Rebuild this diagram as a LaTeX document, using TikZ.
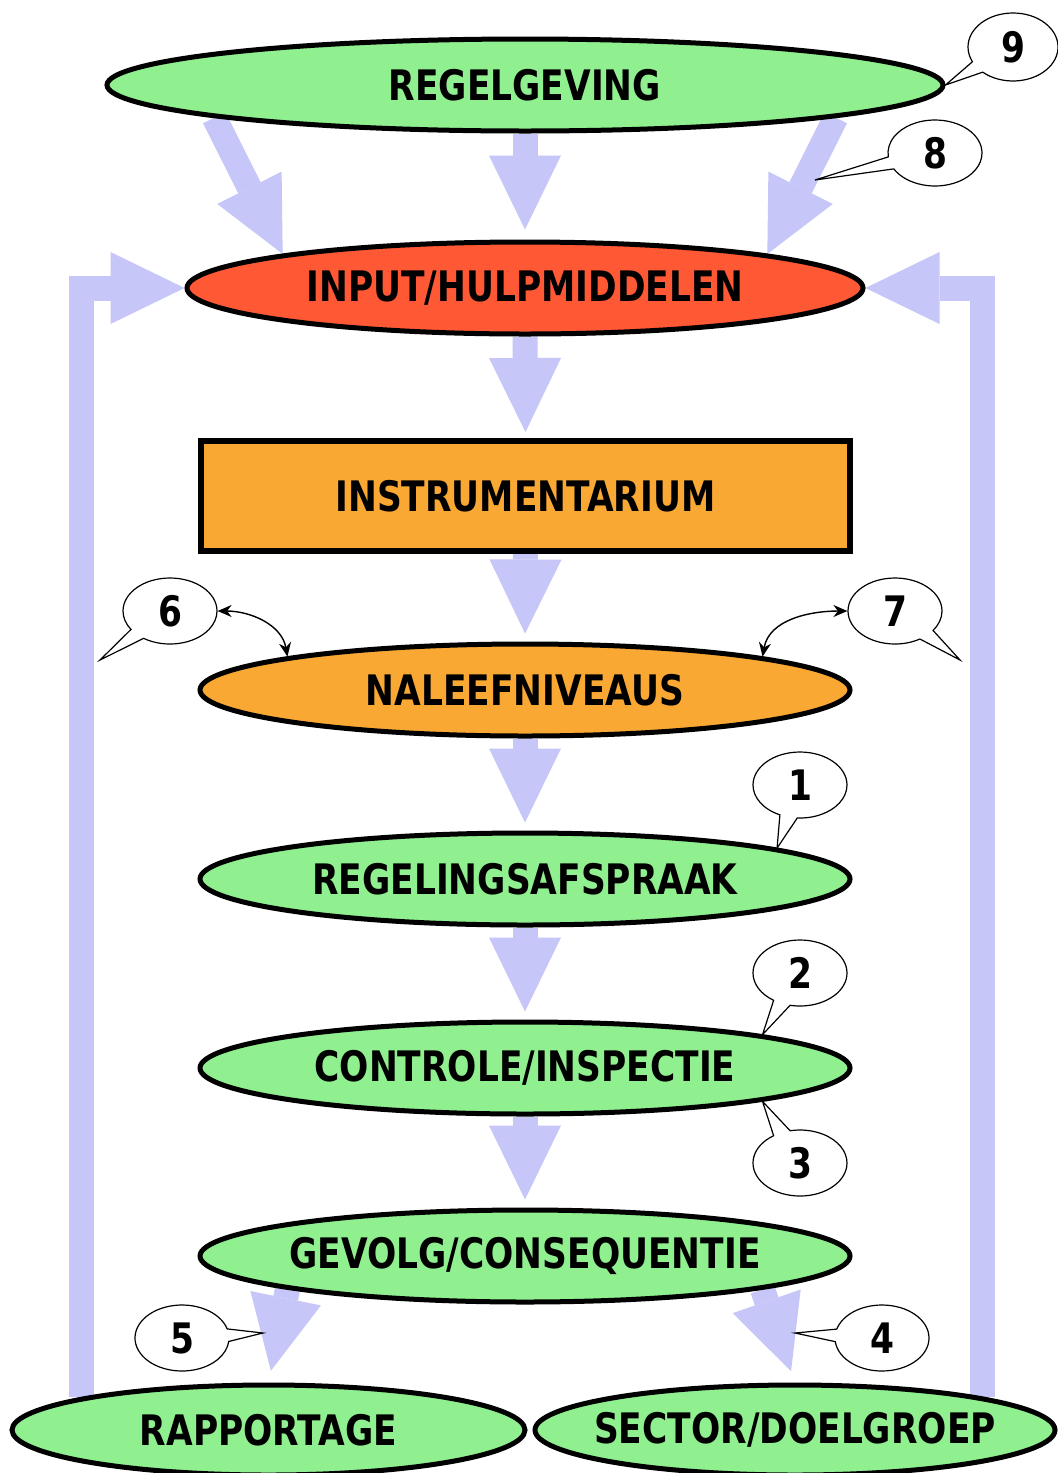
\documentclass[tikz,border=0pt]{standalone}
\usepackage{fontspec}
\newfontfamily\lblfont{DejaVu Sans}[FakeStretch=0.82]
\usetikzlibrary{shapes.geometric,shapes.callouts,arrows.meta}
\pgfdeclarelayer{back}
\pgfsetlayers{back,main}
\definecolor{flowblue}{RGB}{198,198,248}
\definecolor{boxgreen}{RGB}{144,240,144}
\definecolor{boxred}{RGB}{255,88,52}
\definecolor{boxorange}{RGB}{250,168,52}
% label text that does not widen its ellipse
\newcommand\flowtext[1]{\makebox[0pt]{#1}}
\begin{document}
\begin{tikzpicture}[x=0.5pt,y=-0.5pt,
  lbl/.style={font=\lblfont\bfseries\fontsize{21pt}{21pt}\selectfont},
  oval/.style={ellipse, draw=black, line width=2.5pt, inner sep=0pt, minimum height=46pt, lbl},
  stepbox/.style={rectangle, draw=black, line width=3pt, inner sep=0pt, lbl},
  note/.style={ellipse callout, draw=black, line width=0.6pt, fill=white, inner sep=0pt,
    minimum width=47pt, minimum height=33pt, callout pointer arc=22, lbl},
  flow/.style={draw=flowblue, line width=12.5pt, line join=miter,
    -{Triangle[width=36pt,length=37pt,line width=0pt]}},
  link/.style={draw=black, line width=0.7pt,
    {Stealth[length=7pt,width=6pt]}-{Stealth[length=7pt,width=6pt]}}
]
\useasboundingbox (0,0) rectangle (1058,1473);

% main chain
\node[oval, fill=boxgreen, minimum width=418pt] (regel) at (525,85) {\flowtext{REGELGEVING}};
\node[oval, fill=boxred, minimum width=338pt] (input) at (525,288) {\flowtext{INPUT/HULPMIDDELEN}};
\node[stepbox, fill=boxorange, minimum width=324.5pt, minimum height=55pt] (instr) at (525.5,496) {INSTRUMENTARIUM};
\node[oval, fill=boxorange, minimum width=325pt] (naleef) at (525,690) {\flowtext{NALEEFNIVEAUS}};
\node[oval, fill=boxgreen, minimum width=325pt] (afspraak) at (525,879) {\flowtext{REGELINGSAFSPRAAK}};
\node[oval, fill=boxgreen, minimum width=325pt] (controle) at (525,1068) {\flowtext{CONTROLE/INSPECTIE}};
\node[oval, fill=boxgreen, minimum width=325pt] (gevolg) at (525,1256) {\flowtext{GEVOLG/CONSEQUENTIE}};
\node[oval, fill=boxgreen, minimum width=256.5pt, minimum height=45pt] (rapp) at (268.5,1430) {\flowtext{RAPPORTAGE}};
\node[oval, fill=boxgreen, minimum width=260pt, minimum height=45pt] (sector) at (795,1430) {\flowtext{SECTOR/DOELGROEP}};

% targets of the numbered callouts
\coordinate (p8) at (815,180);
\coordinate (p6) at (100,660);
\coordinate (p7) at (960,660);
\coordinate (p5) at (263,1333);
\coordinate (p4) at (795,1333);

% numbered callouts
\node[note, minimum width=45pt, minimum height=34pt, callout absolute pointer={(regel.east)}] (n9) at (1013,47) {9};
\node[note, callout absolute pointer={(p8)}] (n8) at (935,153) {8};
\node[note, callout absolute pointer={(p6)}] (n6) at (170,611) {6};
\node[note, callout absolute pointer={(p7)}] (n7) at (895,611) {7};
\node[note, callout absolute pointer={(afspraak.7)}] (n1) at (800,785) {1};
\node[note, callout absolute pointer={(controle.8)}] (n2) at (800,973) {2};
\node[note, callout absolute pointer={(controle.-8)}] (n3) at (800,1163) {3};
\node[note, callout absolute pointer={(p5)}] (n5) at (182,1338) {5};
\node[note, callout absolute pointer={(p4)}] (n4) at (882,1338) {4};

% thin two-way links
\draw[link] (n6.east) to[out=0,in=100] (naleef.172);
\draw[link] (naleef.8) to[out=80,in=180] (n7.west);

% broad flow arrows behind the shapes
\begin{pgfonlayer}{back}
\fill[white] (0,0) rectangle (1058,1473);
\draw[flow, shorten >=5pt] (regel.south) -- (input.north);
\draw[flow] (regel.186) -- (input.172);
\draw[flow] (regel.354) -- (input.8);
\draw[flow, shorten >=3pt] (input.south) -- (instr.north);
\draw[flow, shorten >=4pt] (instr.south) -- (naleef.north);
\draw[flow, shorten >=4pt] (naleef.south) -- (afspraak.north);
\draw[flow, shorten >=4pt] (afspraak.south) -- (controle.north);
\draw[flow, shorten >=4pt] (controle.south) -- (gevolg.north);
\draw[flow, shorten >=6pt] (gevolg.188) -- (rapp.north);
\draw[flow, shorten >=6pt] (gevolg.352) -- (sector.north);
\draw[flow] (rapp.170) |- (input.west);
\draw[flow] (sector.10) |- (input.east);
\end{pgfonlayer}
\end{tikzpicture}
\end{document}
